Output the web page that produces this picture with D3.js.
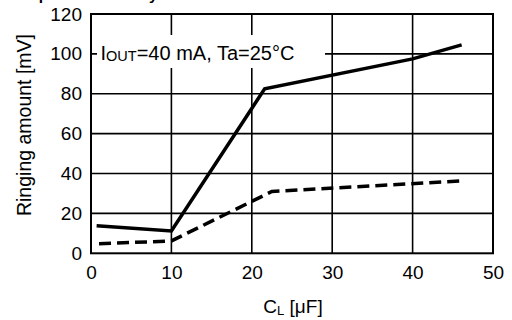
<!DOCTYPE html>
<html><head><meta charset="utf-8">
<script src="https://cdn.jsdelivr.net/npm/d3@7"></script>
<style>body{margin:0;background:#fff}svg{display:block}text{font-family:"Liberation Sans",Arial,sans-serif;fill:#000}</style>
</head><body>
<svg id="c" width="512" height="320"></svg>
<script>
const xTicks = [0, 10, 20, 30, 40, 50];
const yTicks = [0, 20, 40, 60, 80, 100, 120];
const capSolid = [0.7, 10, 21.6, 40, 46.1];
const ringSolid = [13.8, 11.2, 82.5, 97.5, 104.5];
const capDashed = [1, 10, 22.5, 46];
const ringDashed = [4.8, 6.2, 31, 36.3];

const svg = d3.select("#c");
const L = 91, R = 493, T = 14, B = 253.3;
const x = d3.scaleLinear().domain([0, 50]).range([L, R]);
const y = d3.scaleLinear().domain([0, 120]).range([B, T]);

// cut-off title (only descenders visible, as in the reference)
svg.append("text").attr("x", 19).attr("y", -0.3).attr("font-size", 15.5).attr("font-weight", "bold").text("Capacitance Study");

// grid
const g = svg.append("g");
g.selectAll("line.v").data(xTicks.slice(1, -1)).join("line")
  .attr("x1", d => x(d)).attr("x2", d => x(d)).attr("y1", T).attr("y2", B)
  .attr("stroke", "#000").attr("stroke-width", 1.6);
g.selectAll("line.h").data(yTicks.slice(1, -1)).join("line")
  .attr("x1", L).attr("x2", R).attr("y1", d => y(d)).attr("y2", d => y(d))
  .attr("stroke", "#000").attr("stroke-width", 1.6);

// annotation box
svg.append("rect").attr("x", 97).attr("y", 35).attr("width", 228).attr("height", 33).attr("fill", "#fff");
const ann = svg.append("text").attr("x", 100.5).attr("y", 59.5).attr("font-size", 20);
ann.append("tspan").text("I");
ann.append("tspan").attr("font-size", 14.5).attr("dy", 1.5).text("OUT");
ann.append("tspan").attr("dy", -1.5).text("=40 mA, Ta=25°C");

// frame
svg.append("rect").attr("x", L).attr("y", T).attr("width", R - L).attr("height", B - T)
  .attr("fill", "none").attr("stroke", "#000").attr("stroke-width", 2);

// tick labels
svg.append("g").attr("transform", `translate(0,${B})`)
  .call(d3.axisBottom(x).tickValues(xTicks).tickSize(0).tickPadding(12))
  .call(a => a.select(".domain").remove())
  .selectAll("text").attr("font-size", 19).attr("font-family", null);
svg.append("g").attr("transform", `translate(${L},0)`)
  .call(d3.axisLeft(y).tickValues(yTicks).tickSize(0).tickPadding(9))
  .call(a => a.select(".domain").remove())
  .selectAll("text").attr("font-size", 19).attr("font-family", null);

// lines
const line = d3.line().x(d => x(d[0])).y(d => y(d[1]));
svg.append("path").attr("d", line(d3.zip(capSolid, ringSolid)))
  .attr("fill", "none").attr("stroke", "#000").attr("stroke-width", 3.5).attr("stroke-linejoin", "miter");
svg.append("path").attr("d", line(d3.zip(capDashed, ringDashed)))
  .attr("fill", "none").attr("stroke", "#000").attr("stroke-width", 3.5).attr("stroke-dasharray", "12,6");

// axis titles
const xt = svg.append("text").attr("x", 293).attr("y", 312.5).attr("text-anchor", "middle").attr("font-size", 19);
xt.append("tspan").text("C");
xt.append("tspan").attr("font-size", 13).attr("dy", 2).text("L");
xt.append("tspan").attr("dy", -2).text(" [μF]");
svg.append("text").attr("transform", "translate(31,125) rotate(-90)").attr("text-anchor", "middle")
  .attr("font-size", 19.5).text("Ringing amount [mV]");
</script>
</body></html>
